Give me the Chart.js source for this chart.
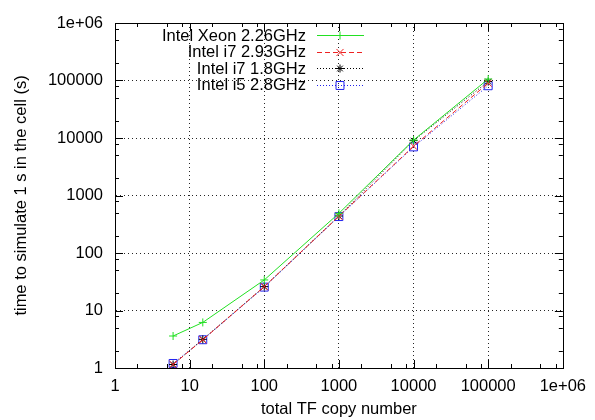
<!DOCTYPE html>
<html>
<head>
<meta charset="utf-8">
<script src="https://cdn.jsdelivr.net/npm/chart.js@4/dist/chart.umd.min.js"></script>
<style>
  html, body { margin: 0; padding: 0; background: #fff; }
  #wrap { width: 595px; height: 420px; position: relative; }
</style>
</head>
<body>
<div id="wrap"><canvas id="myChart"></canvas></div>
<script>
// copy numbers (x) and run times (y)
const copies = [6, 15, 100, 1000, 10000, 100000];
const xeon226 = [3.6, 6.2, 34, 490, 9200, 106000];
const i7_293 = [1.15, 3.1, 26, 435, 7200, 90000];
const i7_18 = [1.15, 3.15, 26, 440, 9000, 96000];
const i5_28 = [1.2, 3.1, 25.5, 430, 7000, 81000];
const labels = ["Intel Xeon 2.26GHz", "Intel i7 2.93GHz", "Intel i7 1.8GHz", "Intel i5 2.8GHz"];
const tickValues = [1, 10, 100, 1000, 10000, 100000, 1000000];
const minorSteps = [2, 5, 8];

const FONT = "'Liberation Sans', Arial, sans-serif";
const FSIZE = 16.5;

function isPow10(v) {
	const l = Math.log10(v);
	return Math.abs(l - Math.round(l)) < 1e-9;
}
function fmt(v) {
	if (!isPow10(v)) return "";
	if (v >= 1e6) return "1e+06";
	return String(Math.round(v));
}
function pts(ys) {
	return copies.map((x, i) => ({ x: x, y: ys[i] }));
}

// gnuplot style box, inner tick marks and a key in the upper left
const gnuplotBits = {
	id: "gnuplotBits",
	afterDraw(chart) {
		const ctx = chart.ctx;
		const a = chart.chartArea;
		const xs = chart.scales.x;
		const ys = chart.scales.y;
		ctx.save();
		ctx.strokeStyle = "#000";
		ctx.lineWidth = 1;
		ctx.setLineDash([]);
		ctx.strokeRect(Math.round(a.left) + 0.5, Math.round(a.top) + 0.5, Math.round(a.right - a.left), Math.round(a.bottom - a.top));

		ctx.beginPath();
		for (let d = 0; d < tickValues.length; d++) {
			const base = tickValues[d];
			const list = [[base, 8]];
			if (d < tickValues.length - 1) minorSteps.forEach((m) => list.push([base * m, 4]));
			list.forEach(([v, len]) => {
				const px = Math.round(xs.getPixelForValue(v)) + 0.5;
				ctx.moveTo(px, a.bottom); ctx.lineTo(px, a.bottom - len);
				ctx.moveTo(px, a.top); ctx.lineTo(px, a.top + len);
				const py = Math.round(ys.getPixelForValue(v)) + 0.5;
				ctx.moveTo(a.left, py); ctx.lineTo(a.left + len, py);
				ctx.moveTo(a.right, py); ctx.lineTo(a.right - len, py);
			});
		}
		ctx.stroke();

		// key
		ctx.font = FSIZE + "px " + FONT;
		ctx.textAlign = "right";
		ctx.textBaseline = "middle";
		chart.data.datasets.forEach((ds, i) => {
			const y = 35 + i * 16.6;
			ctx.fillStyle = "#000";
			ctx.fillText(ds.label, 306, y + 1);
			ctx.strokeStyle = ds.borderColor;
			ctx.lineWidth = 1;
			ctx.setLineDash(ds.borderDash || []);
			ctx.beginPath();
			ctx.moveTo(317, Math.round(y) + 0.5);
			ctx.lineTo(364, Math.round(y) + 0.5);
			ctx.stroke();
			ctx.setLineDash([]);
			if (Chart.helpers && Chart.helpers.drawPoint) {
				ctx.fillStyle = "rgba(0,0,0,0)";
				Chart.helpers.drawPoint(ctx, {
					pointStyle: ds.pointStyle,
					radius: ds.pointRadius,
					borderWidth: 1,
					rotation: 0
				}, 340, Math.round(y) + 0.5);
			}
		});
		ctx.restore();
	}
};

const gridColor = (c) => {
	const v = c.tick && c.tick.value;
	return v > 1 && v < 1e6 && isPow10(v) ? "rgba(0,0,0,0.85)" : "rgba(0,0,0,0)";
};

const ctx = document.getElementById("myChart").getContext("2d");
const myChart = new Chart(ctx, {
	type: "line",
	data: {
		datasets: [
			{
				label: labels[0],
				data: pts(xeon226),
				borderColor: "#22e022",
				pointStyle: "cross",
				pointRadius: 4,
				borderWidth: 1
			},
			{
				label: labels[1],
				data: pts(i7_293),
				borderColor: "#ee2222",
				borderDash: [5, 3],
				pointStyle: "crossRot",
				pointRadius: 5,
				borderWidth: 1
			},
			{
				label: labels[2],
				data: pts(i7_18),
				borderColor: "#000000",
				borderDash: [1, 2],
				pointStyle: "star",
				pointRadius: 4,
				borderWidth: 1
			},
			{
				label: labels[3],
				data: pts(i5_28),
				borderColor: "#2222ee",
				borderDash: [1, 2],
				pointStyle: "rect",
				pointRadius: 5.6,
				borderWidth: 1
			}
		].map((d) => Object.assign(d, {
			fill: false,
			tension: 0,
			pointBorderColor: d.borderColor,
			pointBackgroundColor: "rgba(0,0,0,0)",
			pointBorderWidth: 1
		}))
	},
	options: {
		responsive: true,
		maintainAspectRatio: false,
		animation: false,
		layout: { padding: { left: 0, right: 27, top: 23, bottom: 0 } },
		plugins: {
			legend: { display: false },
			tooltip: { enabled: false }
		},
		scales: {
			x: {
				type: "logarithmic",
				min: 1,
				max: 1000000,
				afterFit: (s) => { s.height = 52; },
				grid: { color: gridColor, drawTicks: false, lineWidth: 1 },
				border: { display: true, color: "#000", dash: [1, 3] },
				ticks: {
					autoSkip: false,
					maxRotation: 0,
					padding: 9,
					color: "#000",
					font: { family: FONT, size: FSIZE },
					callback: (v) => fmt(v)
				},
				title: {
					display: true,
					text: "total TF copy number",
					color: "#000",
					font: { family: FONT, size: FSIZE },
					padding: { top: 0, bottom: 1 }
				}
			},
			y: {
				type: "logarithmic",
				min: 1,
				max: 1000000,
				afterFit: (s) => { s.width = 115; },
				grid: { color: gridColor, drawTicks: false, lineWidth: 1 },
				border: { display: true, color: "#000", dash: [1, 3] },
				ticks: {
					autoSkip: false,
					padding: 12,
					color: "#000",
					font: { family: FONT, size: FSIZE },
					callback: (v) => fmt(v)
				},
				title: {
					display: true,
					text: "time to simulate 1 s in the cell (s)",
					color: "#000",
					font: { family: FONT, size: FSIZE },
					padding: { top: 12, bottom: 0 }
				}
			}
		}
	},
	plugins: [gnuplotBits]
});
</script>
</body>
</html>
